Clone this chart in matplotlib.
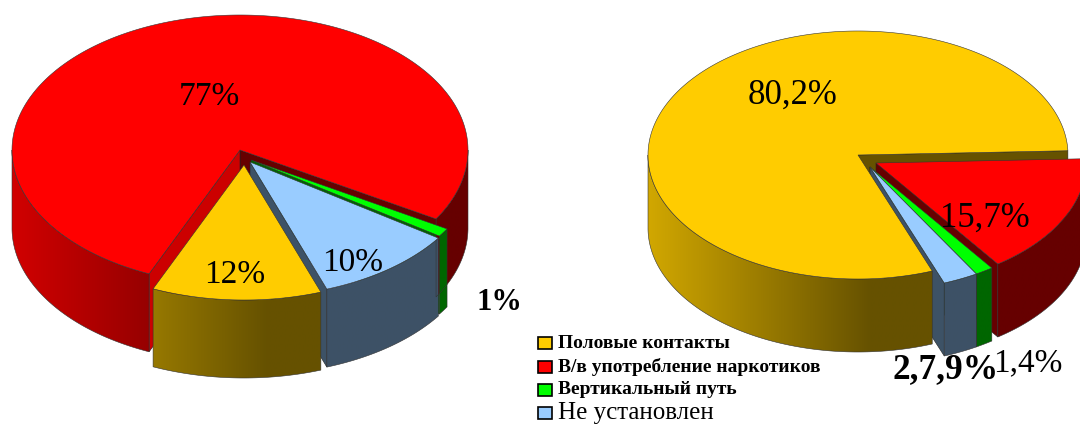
import numpy as np
import matplotlib
matplotlib.use('Agg')
import matplotlib.pyplot as plt
from matplotlib.patches import Polygon, Rectangle

plt.rcParams['font.family'] = ['Liberation Serif', 'DejaVu Serif']

categories = ['Половые контакты', 'В/в употребление наркотиков', 'Вертикальный путь', 'Не установлен']
left_values = [12, 77, 1, 10]
right_values = [80.2, 15.7, 1.4, 2.7]
left_labels = ['12%', '77%', '1%', '10%']
right_labels = ['80,2%', '15,7%', '1,4%', '2,7,9%']

colors = ['#FFCC00', '#FF0000', '#00FF00', '#99CCFF']

# pixel offsets of the pulled out slices
left_shift = [(4, 15), (0, 0), (11, 10), (10, 12)]
right_shift = [(0, 0), (18, 8), (12, 12), (12, 12)]


def shade(col, f):
    return tuple(c * f for c in matplotlib.colors.to_rgb(col))


def arc(cx, cy, rx, ry, a, b):
    t = np.radians(np.linspace(a, b, max(int(abs(b - a)) * 2, 2) + 1))
    return np.column_stack([cx + rx * np.cos(t), cy - ry * np.sin(t)])


def draw_pie(ax, values, cx, cy, rx, ry, depth, start, shifts, fade):
    slices = []
    b = start
    for v, col, sh in zip(values, colors, shifts):
        a = b - v * 3.6
        slices.append((a, b, col, cx + sh[0], cy + sh[1]))
        b = a
    # back slices first
    slices.sort(key=lambda s: -np.sin(np.radians((s[0] + s[1]) / 2)))
    x0, x1 = cx - rx, cx + rx

    # cut faces of the slices
    for a, b, col, x, y in slices:
        for ang, vis, f in [(a, np.cos(np.radians(a)) > 0, 0.4), (b, np.cos(np.radians(b)) < 0, 0.8)]:
            if not vis:
                continue
            p = arc(x, y, rx, ry, ang, ang)[0]
            pts = [(x, y), p, (p[0], p[1] + depth), (x, y + depth)]
            ax.add_patch(Polygon(pts, fc=shade(col, f), ec='#222222', lw=0.4, zorder=1))

    # outer rim, shaded from left to right
    xs = np.linspace(x0, x1, 300)
    fs = np.clip(0.82 - 0.42 * (xs - x0) / (fade * (x1 - x0)), 0.4, 0.82)
    for a, b, col, x, y in slices:
        lo = a if a >= 0 else a + 360
        hi = lo + (b - a)
        for k in (0, 1):
            s, e = max(lo, 180 + 360 * k), min(hi, 360 + 360 * k)
            if e <= s:
                continue
            top = arc(x, y, rx, ry, s, e)
            low = top[::-1] + [0, depth]
            outline = np.vstack([top, low])
            rgb = np.array(matplotlib.colors.to_rgb(col))
            grad = (fs[:, None] * rgb)[None, :, :]
            im = ax.imshow(grad, extent=[x0 + x - cx, x1 + x - cx, 424, 0], aspect='auto', zorder=2,
                           interpolation='bilinear')
            clip = Polygon(outline, transform=ax.transData, fc='none', ec='none')
            im.set_clip_path(clip)
            ax.add_patch(Polygon(outline, fc='none', ec='#333333', lw=0.4, zorder=2.5))

    # top faces
    for a, b, col, x, y in slices:
        pts = np.vstack([[x, y], arc(x, y, rx, ry, a, b)])
        ax.add_patch(Polygon(pts, fc=col, ec='#333333', lw=0.4, zorder=3))


fig = plt.figure(figsize=(10.8, 4.24), dpi=100)
ax = fig.add_axes([0, 0, 1, 1])
ax.axis('off')

draw_pie(ax, left_values, 240, 150, 228, 135, 78, 289.7, left_shift, 0.55)
draw_pie(ax, right_values, 858, 155, 210, 124, 73, 290.7, right_shift, 0.53)
ax.set_xlim(0, 1080)
ax.set_ylim(424, 0)

# data labels
left_pos = [(235, 275), (209, 97), (499, 303), (353, 263)]
for txt, pos in zip(left_labels, left_pos):
    ax.text(pos[0], pos[1], txt, fontsize=22 if txt == '1%' else 24, ha='center', va='center', color='black',
            zorder=5, fontweight='bold' if txt == '1%' else 'normal')
right_pos = [(793, 95), (985, 218), (1028, 363), (946, 370)]
right_size = [25, 25, 24, 25.5]
for txt, pos, fs, w in zip(right_labels, right_pos, right_size, ['normal', 'normal', 'normal', 'bold']):
    ax.text(pos[0], pos[1], txt, fontsize=fs, ha='center', va='center', color='black', zorder=5, fontweight=w)

# legend
leg_y = [343, 367, 390, 413]
leg_size = [14, 14, 14, 18]
leg_weight = ['bold', 'bold', 'bold', 'normal']
for name, col, y, fs, w in zip(categories, colors, leg_y, leg_size, leg_weight):
    ax.add_patch(Rectangle((538, y - 6), 14, 12, fc=col, ec='black', lw=1.2, zorder=5))
    ax.text(558, y, name, fontsize=fs, fontweight=w, va='center', ha='left', color='black', zorder=5)

plt.savefig('out.png', dpi=100)
